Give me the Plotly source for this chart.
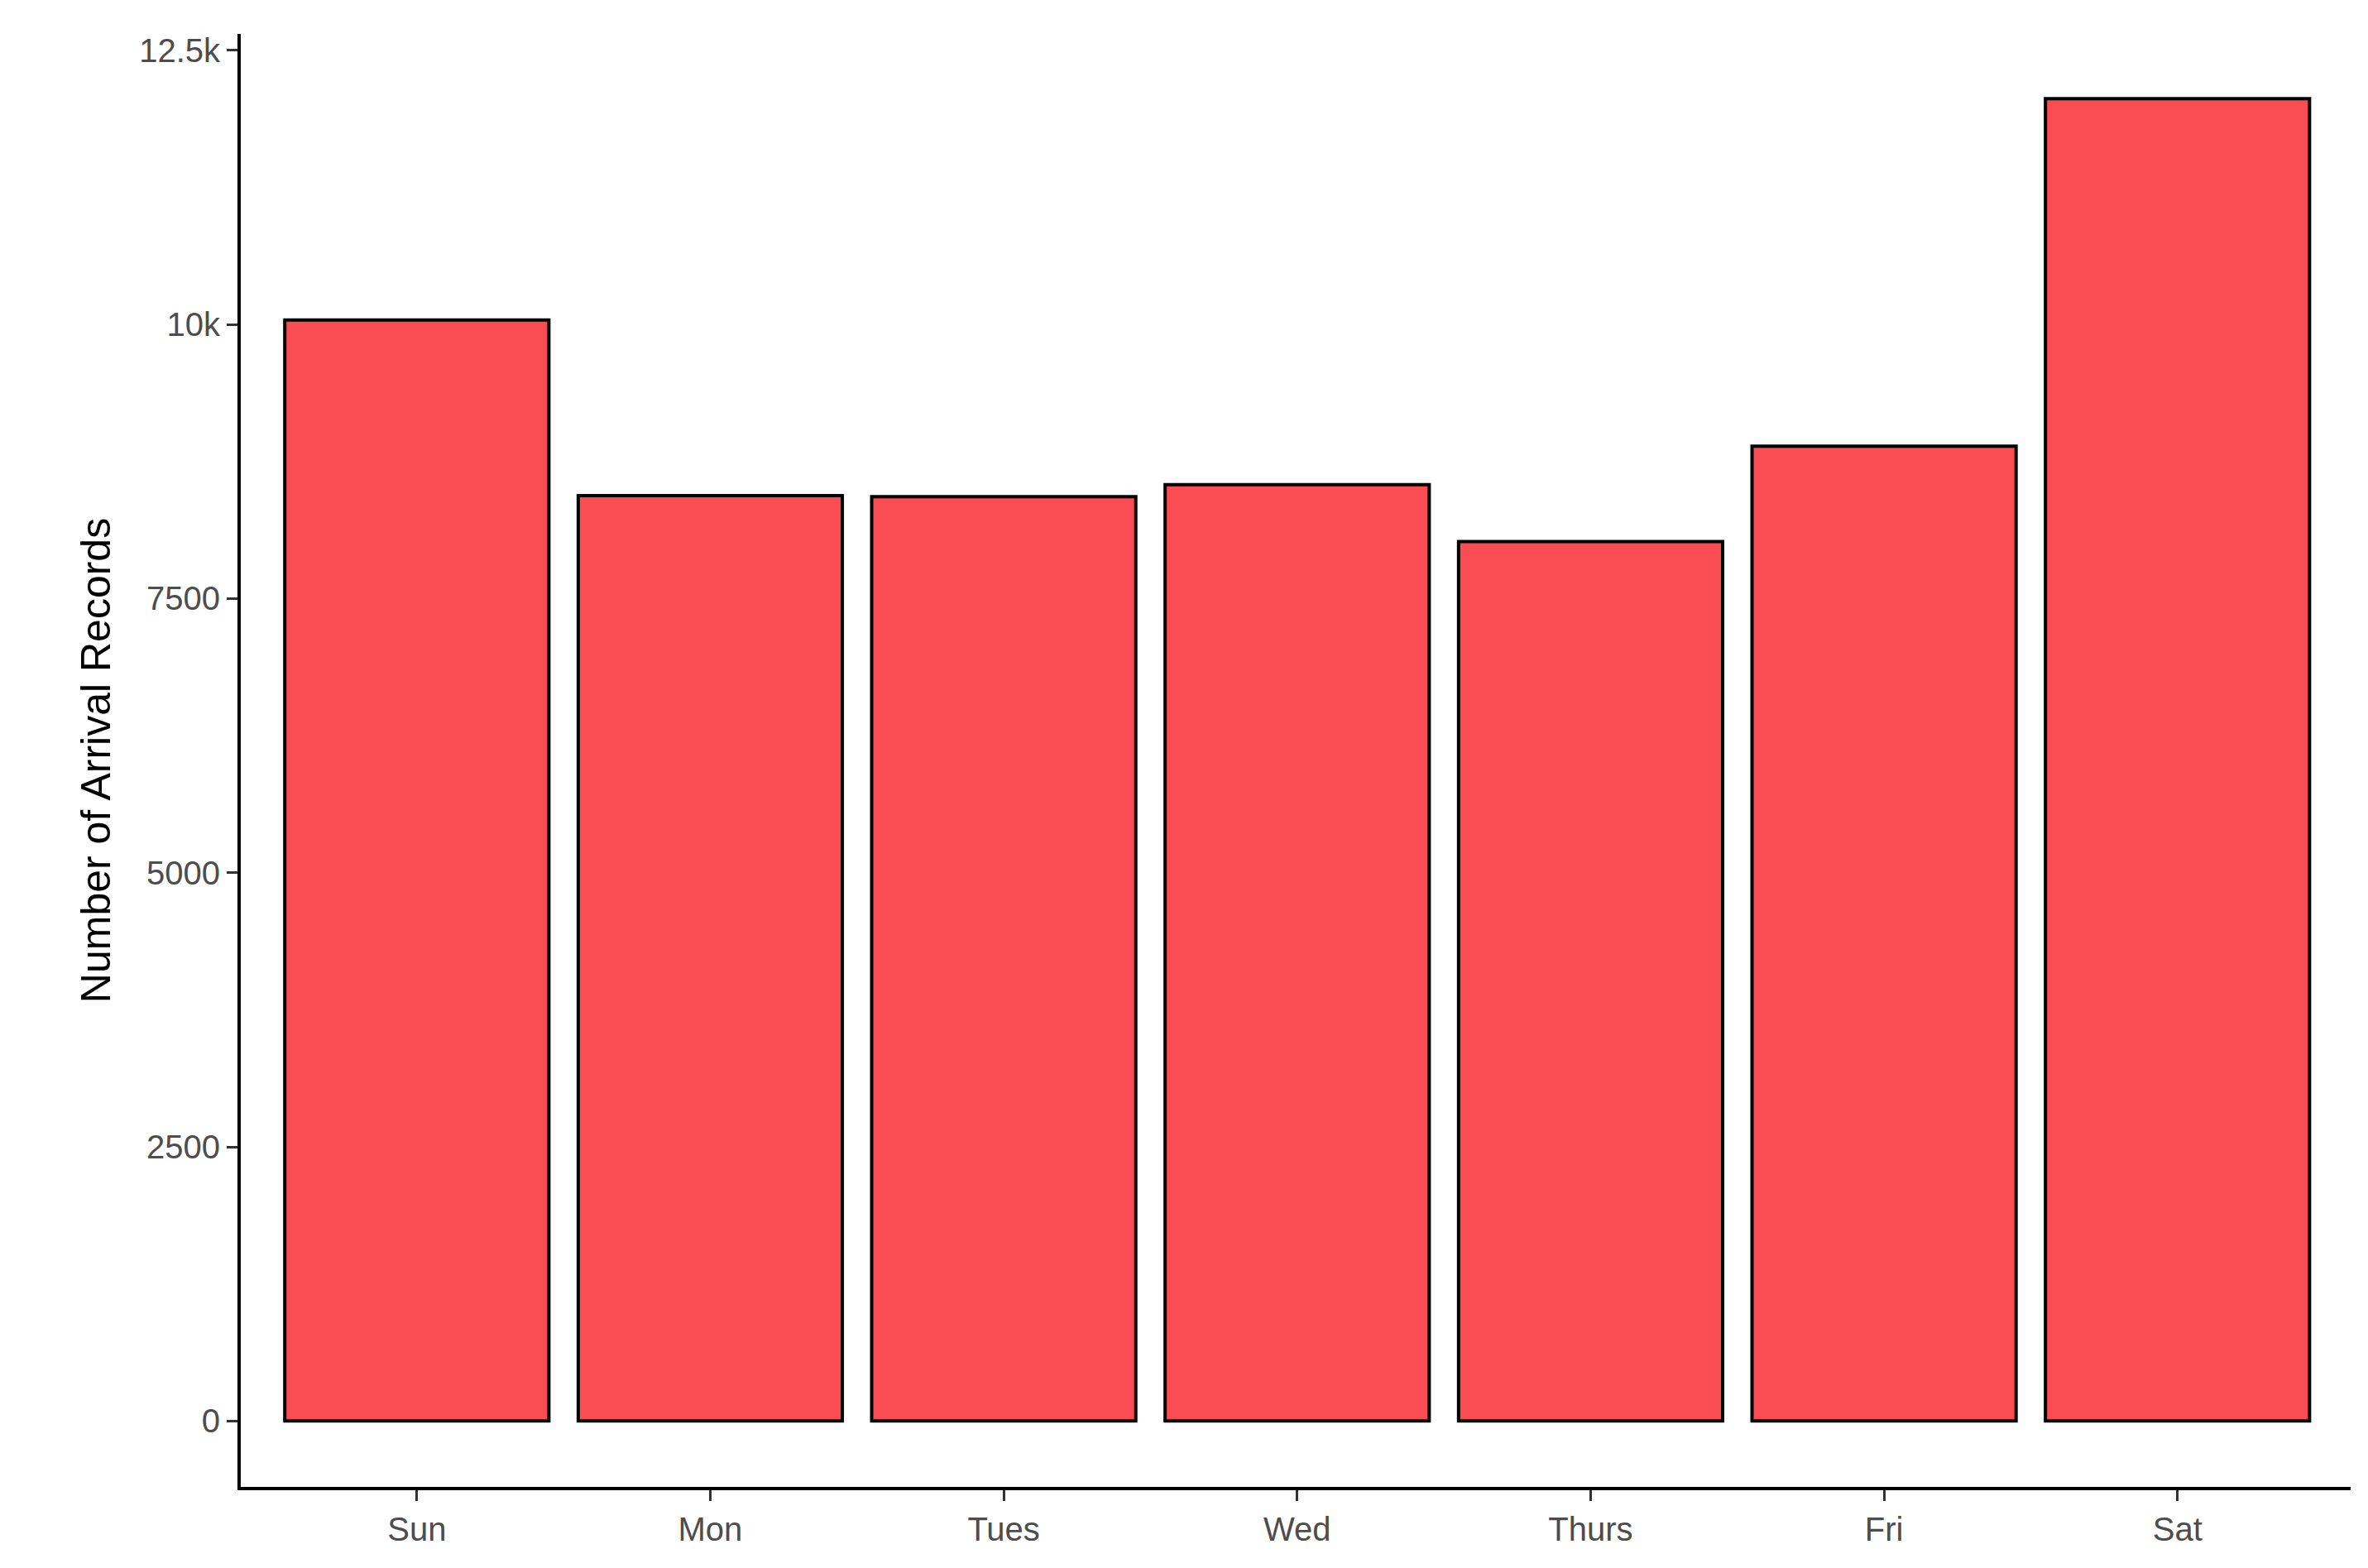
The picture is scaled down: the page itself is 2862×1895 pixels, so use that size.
import plotly.graph_objects as go

days = ["Sun", "Mon", "Tues", "Wed", "Thurs", "Fri", "Sat"]
arrivals = [10040, 8440, 8430, 8540, 8020, 8890, 12060]
y_ticks = [0, 2500, 5000, 7500, 10000, 12500]

fig = go.Figure(
    go.Bar(
        x=days,
        y=arrivals,
        width=0.9,
        marker=dict(color="#F94C53", line=dict(color="black", width=4)),
    )
)

axis_style = dict(
    showline=True,
    linecolor="black",
    linewidth=4,
    ticks="outside",
    ticklen=13,
    tickwidth=3,
    tickcolor="#333333",
    showgrid=False,
    zeroline=False,
    tickfont=dict(family="Liberation Sans, Arial", size=40, color="#4D4D4D"),
)

fig.update_xaxes(range=[-0.6, 6.59], **axis_style)
fig.update_yaxes(
    range=[-601, 12650],
    tickvals=y_ticks,
    title=dict(text="Number of Arrival Records", font=dict(family="Liberation Sans, Arial", size=50, color="black"), standoff=20),
    **axis_style,
)

fig.update_layout(
    width=2862,
    height=1895,
    plot_bgcolor="white",
    paper_bgcolor="white",
    margin=dict(l=283, r=29, t=33, b=106),
    showlegend=False,
)

fig.write_html("out.html")
